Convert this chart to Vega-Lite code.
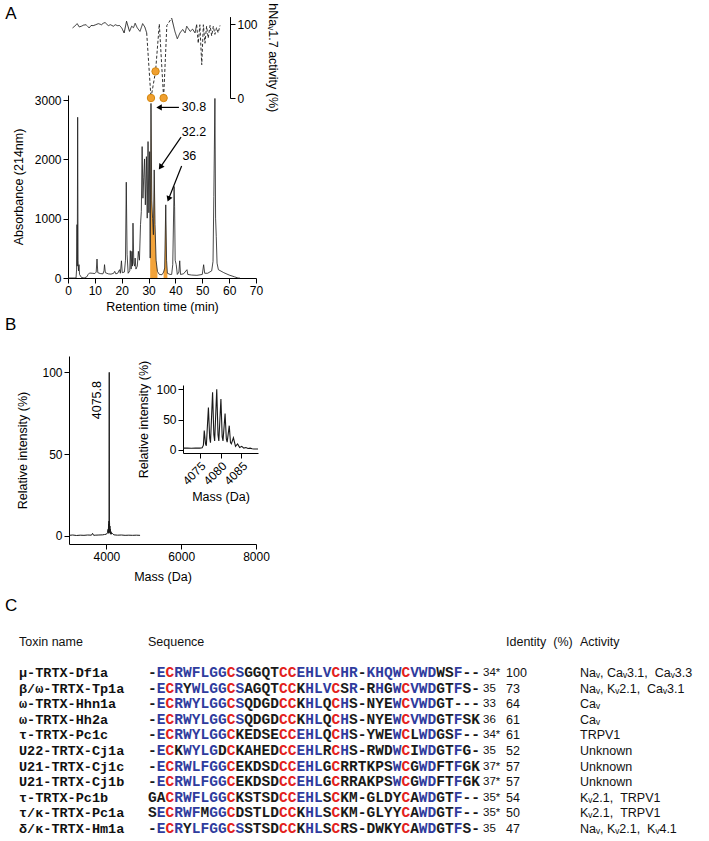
{
"$schema": "https://vega.github.io/schema/vega-lite/v6.json",
"width": 709, "height": 841, "autosize": "none", "padding": 0, "background": "white",
"config": {"view": {"stroke": null},
 "axis": {"domainColor": "#000", "tickColor": "#000", "labelColor": "#000", "titleColor": "#000", "labelFont": "Liberation Sans", "titleFont": "Liberation Sans", "labelFontSize": 12, "titleFontSize": 12.5, "titleFontWeight": "normal", "tickSize": 5, "grid": false, "labelFlush": false, "labelOverlap": false, "labelPadding": 2, "domainWidth": 1, "tickWidth": 1, "format": "d"}},
"datasets": {
 "chrom": [{"t":0,"a":0},{"t":3.0,"a":0},{"t":3.2,"a":150},{"t":3.35,"a":900},{"t":3.45,"a":200},{"t":3.6,"a":2710},{"t":3.75,"a":300},{"t":3.9,"a":120},{"t":4.1,"a":225},{"t":4.3,"a":60},{"t":5,"a":10},{"t":6,"a":0},{"t":7,"a":20},{"t":7.5,"a":60},{"t":8,"a":84},{"t":9,"a":80},{"t":10,"a":75},{"t":10.5,"a":100},{"t":10.8,"a":320},{"t":11.1,"a":90},{"t":12,"a":75},{"t":13,"a":70},{"t":13.4,"a":120},{"t":13.6,"a":225},{"t":13.9,"a":90},{"t":15,"a":70},{"t":16,"a":65},{"t":17,"a":80},{"t":17.4,"a":112},{"t":17.8,"a":70},{"t":18.5,"a":80},{"t":19.2,"a":140},{"t":19.5,"a":80},{"t":19.9,"a":290},{"t":20.2,"a":90},{"t":21,"a":100},{"t":21.4,"a":300},{"t":21.7,"a":1615},{"t":22.0,"a":400},{"t":22.4,"a":80},{"t":23,"a":120},{"t":23.2,"a":460},{"t":23.5,"a":150},{"t":23.8,"a":450},{"t":24.0,"a":200},{"t":24.2,"a":925},{"t":24.5,"a":250},{"t":24.8,"a":200},{"t":25.0,"a":336},{"t":25.3,"a":150},{"t":25.8,"a":200},{"t":26.2,"a":450},{"t":26.6,"a":300},{"t":27.0,"a":900},{"t":27.3,"a":1120},{"t":27.6,"a":2215},{"t":27.9,"a":1345},{"t":28.2,"a":1700},{"t":28.5,"a":2007},{"t":28.8,"a":1233},{"t":29.2,"a":2046},{"t":29.5,"a":1009},{"t":29.8,"a":2300},{"t":30.1,"a":1100},{"t":30.4,"a":2130},{"t":30.6,"a":336,"f":"F1"},{"t":30.9,"a":2943,"f":"F1"},{"t":31.2,"a":1300,"f":"F1"},{"t":31.5,"a":1000,"f":"F1"},{"t":31.8,"a":729,"f":"F1"},{"t":32.1,"a":1822,"f":"F1"},{"t":32.4,"a":900,"f":"F1"},{"t":32.8,"a":300,"f":"F1"},{"t":33.3,"a":112,"f":"F1"},{"t":34,"a":60},{"t":35,"a":55},{"t":35.6,"a":100,"f":"F2"},{"t":36.0,"a":168,"f":"F2"},{"t":36.4,"a":1233,"f":"F2"},{"t":36.7,"a":300,"f":"F2"},{"t":37.0,"a":80,"f":"F2"},{"t":38,"a":60},{"t":38.6,"a":60},{"t":39.0,"a":224},{"t":39.5,"a":1542},{"t":39.7,"a":1200},{"t":39.9,"a":300},{"t":40.3,"a":224},{"t":40.7,"a":60},{"t":41.3,"a":100},{"t":41.6,"a":290},{"t":41.9,"a":60},{"t":43,"a":70},{"t":44.3,"a":140},{"t":44.6,"a":60},{"t":46,"a":50},{"t":48,"a":45},{"t":50,"a":60},{"t":50.5,"a":224},{"t":50.9,"a":80},{"t":52,"a":80},{"t":53.5,"a":120},{"t":54.0,"a":280},{"t":54.3,"a":1374},{"t":54.7,"a":3027},{"t":54.95,"a":1009},{"t":55.2,"a":700},{"t":55.5,"a":250},{"t":56,"a":140},{"t":58,"a":90},{"t":60,"a":50},{"t":62,"a":20},{"t":63.3,"a":0},{"t":64,"a":0}],
 "arrows": [{"id":"30.8","t":41.3,"a":2876,"t2":33.9,"a2":2876},{"id":"32.2","t":42.1,"a":2376,"t2":34.4,"a2":1869},{"id":"36","t":42.3,"a":1887,"t2":37.45,"a2":1331}],
 "heads": [{"id":"30.8","t":33.9,"a":2876},{"id":"32.2","t":34.4,"a":1869},{"id":"36","t":37.45,"a":1331}],
 "albl": [{"lab":"30.8","t":42.4,"a":2876},{"lab":"32.2","t":42.4,"a":2465},{"lab":"36","t":42.6,"a":2056}],
 "alab": [{"t":-23.4,"a":4364,"lab":"A"}],
 "act": [{"t":1.7,"v":94.7,"seg":"s1"},{"t":2.5,"v":97,"seg":"s1"},{"t":3.4,"v":100.5,"seg":"s1"},{"t":4.2,"v":96,"seg":"s1"},{"t":5.0,"v":97,"seg":"s1"},{"t":5.8,"v":98.5,"seg":"s1"},{"t":6.7,"v":99,"seg":"s1"},{"t":7.9,"v":94.7,"seg":"s1"},{"t":8.6,"v":98,"seg":"s1"},{"t":9.4,"v":97.8,"seg":"s1"},{"t":10.3,"v":99,"seg":"s1"},{"t":11.3,"v":100.5,"seg":"s1"},{"t":12.5,"v":99,"seg":"s1"},{"t":13.1,"v":101,"seg":"s1"},{"t":13.8,"v":102,"seg":"s1"},{"t":15,"v":97.8,"seg":"s1"},{"t":15.8,"v":99,"seg":"s1"},{"t":16.9,"v":97,"seg":"s1"},{"t":17.6,"v":99,"seg":"s1"},{"t":18.4,"v":97.8,"seg":"s1"},{"t":19.2,"v":98,"seg":"s1"},{"t":20,"v":94.7,"seg":"s1"},{"t":20.9,"v":87.9,"seg":"s1"},{"t":21.8,"v":103.7,"seg":"s1"},{"t":22.9,"v":90,"seg":"s1"},{"t":23.7,"v":97,"seg":"s1"},{"t":24.4,"v":95,"seg":"s1"},{"t":25,"v":101,"seg":"s1"},{"t":25.8,"v":94.7,"seg":"s1"},{"t":26.8,"v":90,"seg":"s1"},{"t":27.8,"v":100.5,"seg":"s1"},{"t":28.6,"v":96,"seg":"s1"},{"t":29.3,"v":88,"seg":"s1"},
  {"t":29.3,"v":88,"seg":"d1"},{"t":30.9,"v":0,"seg":"d1"},{"t":32.6,"v":36,"seg":"d1"},{"t":34.0,"v":100,"seg":"d1"},{"t":35.6,"v":0,"seg":"d1"},{"t":36.8,"v":98,"seg":"d1"},{"t":38.6,"v":108,"seg":"d1"},
  {"t":38.6,"v":108,"seg":"s2"},{"t":39.8,"v":90,"seg":"s2"},{"t":40.7,"v":80,"seg":"s2"},{"t":41.7,"v":88,"seg":"s2"},{"t":42.7,"v":92.6,"seg":"s2"},{"t":43.6,"v":88,"seg":"s2"},{"t":44.2,"v":97,"seg":"s2"},{"t":45.5,"v":90,"seg":"s2"},{"t":46.4,"v":93,"seg":"s2"},{"t":47.3,"v":88,"seg":"s2"},{"t":47.9,"v":99,"seg":"s2"},
  {"t":47.9,"v":99,"seg":"d2"},{"t":48.5,"v":74,"seg":"d2"},{"t":49.1,"v":99,"seg":"d2"},{"t":49.8,"v":45,"seg":"d2"},{"t":50.4,"v":99,"seg":"d2"},{"t":51.0,"v":74,"seg":"d2"},{"t":51.6,"v":97,"seg":"d2"},{"t":52.2,"v":81,"seg":"d2"},{"t":52.9,"v":98,"seg":"d2"},{"t":53.5,"v":84,"seg":"d2"},{"t":54.1,"v":97,"seg":"d2"},{"t":54.7,"v":86,"seg":"d2"},{"t":55.3,"v":95,"seg":"d2"},{"t":55.9,"v":88,"seg":"d2"},{"t":56.6,"v":98,"seg":"d2"}],
 "dots": [{"t":30.9,"v":0},{"t":32.6,"v":36},{"t":35.6,"v":0}],
 "ms": [{"m":3000,"v":0.3},{"m":3100,"v":0.5},{"m":3200,"v":0.2},{"m":3300,"v":0.4},{"m":3400,"v":0.3},{"m":3500,"v":0.5},{"m":3600,"v":0.4},{"m":3630,"v":1.5},{"m":3660,"v":0.3},{"m":3700,"v":0.4},{"m":3800,"v":0.5},{"m":3900,"v":0.6},{"m":3950,"v":0.8},{"m":4000,"v":1},{"m":4030,"v":2},{"m":4045,"v":4},{"m":4050,"v":1.5},{"m":4058,"v":7},{"m":4062,"v":2},{"m":4068,"v":9},{"m":4072,"v":3},{"m":4075.8,"v":100},{"m":4079,"v":3},{"m":4084,"v":8},{"m":4088,"v":2},{"m":4094,"v":6},{"m":4100,"v":1.5},{"m":4108,"v":4},{"m":4115,"v":1},{"m":4125,"v":2.5},{"m":4140,"v":1},{"m":4160,"v":1.5},{"m":4200,"v":0.6},{"m":4300,"v":0.4},{"m":4400,"v":0.5},{"m":4500,"v":0.3},{"m":4600,"v":0.4},{"m":4700,"v":0.3},{"m":4800,"v":0.4},{"m":4900,"v":0.3}],
 "mslbl": [{"m":4075.8,"v":83,"lab":"4075.8"}],
 "blab": [{"m":1289,"v":126,"lab":"B"}],
 "inset": [{"m":4071,"v":3},{"m":4072,"v":3},{"m":4073,"v":2.8},{"m":4074,"v":3},{"m":4075,"v":3},{"m":4075.6,"v":3.5},{"m":4075.9,"v":8},{"m":4076.1,"v":32},{"m":4076.4,"v":10},{"m":4076.6,"v":7},{"m":4077.1,"v":70},{"m":4077.4,"v":20},{"m":4077.6,"v":12},{"m":4078.1,"v":95},{"m":4078.4,"v":25},{"m":4078.6,"v":15},{"m":4079.1,"v":100},{"m":4079.4,"v":25},{"m":4079.6,"v":15},{"m":4080.1,"v":84},{"m":4080.4,"v":22},{"m":4080.6,"v":15},{"m":4081.1,"v":60},{"m":4081.4,"v":18},{"m":4081.6,"v":13},{"m":4082.1,"v":40},{"m":4082.4,"v":12},{"m":4082.6,"v":10},{"m":4083.1,"v":20},{"m":4083.6,"v":6},{"m":4084.1,"v":10},{"m":4084.6,"v":4},{"m":4085.1,"v":6},{"m":4085.6,"v":3},{"m":4086.1,"v":4},{"m":4086.6,"v":2.5},{"m":4087.1,"v":3},{"m":4087.6,"v":2},{"m":4088,"v":1.5},{"m":4089,"v":1.5}],
 "hdr": [{"c":0,"r":-1,"h":"Toxin name"},{"c":1,"r":-1,"h":"Sequence"},{"c":3,"r":-1,"h":"Identity\u00a0\u00a0(%)"},{"c":4,"r":-1,"h":"Activity"}],
 "clab": [{"c":0,"r":-3,"lab":"C"}],
 "tox": [{"r":1,"name":"μ-TRTX-Df1a","len":"34*","ident":100,"act":"Naᵥ, Caᵥ3.1,\u00a0\u00a0Caᵥ3.3"},{"r":2,"name":"β/ω-TRTX-Tp1a","len":"35","ident":73,"act":"Naᵥ, Kᵥ2.1,\u00a0\u00a0Caᵥ3.1"},{"r":3,"name":"ω-TRTX-Hhn1a","len":"33","ident":64,"act":"Caᵥ"},{"r":4,"name":"ω-TRTX-Hh2a","len":"36","ident":61,"act":"Caᵥ"},{"r":5,"name":"τ-TRTX-Pc1c","len":"34*","ident":61,"act":"TRPV1"},{"r":6,"name":"U22-TRTX-Cj1a","len":"35","ident":52,"act":"Unknown"},{"r":7,"name":"U21-TRTX-Cj1c","len":"37*","ident":57,"act":"Unknown"},{"r":8,"name":"U21-TRTX-Cj1b","len":"37*","ident":57,"act":"Unknown"},{"r":9,"name":"τ-TRTX-Pc1b","len":"35*","ident":54,"act":"Kᵥ2.1,\u00a0\u00a0TRPV1"},{"r":10,"name":"τ/κ-TRTX-Pc1a","len":"35*","ident":50,"act":"Kᵥ2.1,\u00a0\u00a0TRPV1"},{"r":11,"name":"δ/κ-TRTX-Hm1a","len":"35","ident":47,"act":"Naᵥ, Kᵥ2.1,\u00a0\u00a0Kᵥ4.1"}],
 "seq": [
{"r":1,"i":0,"a":"-","k":"v"},{"r":1,"i":1,"a":"E","k":"i"},{"r":1,"i":2,"a":"C","k":"c"},{"r":1,"i":3,"a":"R","k":"i"},{"r":1,"i":4,"a":"W","k":"i"},{"r":1,"i":5,"a":"F","k":"i"},{"r":1,"i":6,"a":"L","k":"i"},{"r":1,"i":7,"a":"G","k":"i"},{"r":1,"i":8,"a":"G","k":"i"},{"r":1,"i":9,"a":"C","k":"c"},{"r":1,"i":10,"a":"S","k":"i"},{"r":1,"i":11,"a":"G","k":"v"},{"r":1,"i":12,"a":"G","k":"v"},{"r":1,"i":13,"a":"Q","k":"v"},{"r":1,"i":14,"a":"T","k":"v"},{"r":1,"i":15,"a":"C","k":"c"},{"r":1,"i":16,"a":"C","k":"c"},{"r":1,"i":17,"a":"E","k":"i"},{"r":1,"i":18,"a":"H","k":"i"},{"r":1,"i":19,"a":"L","k":"i"},{"r":1,"i":20,"a":"V","k":"i"},{"r":1,"i":21,"a":"C","k":"c"},{"r":1,"i":22,"a":"H","k":"i"},{"r":1,"i":23,"a":"R","k":"i"},{"r":1,"i":24,"a":"-","k":"v"},{"r":1,"i":25,"a":"K","k":"i"},{"r":1,"i":26,"a":"H","k":"i"},{"r":1,"i":27,"a":"Q","k":"i"},{"r":1,"i":28,"a":"W","k":"i"},{"r":1,"i":29,"a":"C","k":"c"},{"r":1,"i":30,"a":"V","k":"i"},{"r":1,"i":31,"a":"W","k":"i"},{"r":1,"i":32,"a":"D","k":"i"},{"r":1,"i":33,"a":"W","k":"v"},{"r":1,"i":34,"a":"S","k":"v"},{"r":1,"i":35,"a":"F","k":"i"},{"r":1,"i":36,"a":"-","k":"v"},{"r":1,"i":37,"a":"-","k":"v"},
{"r":2,"i":0,"a":"-","k":"v"},{"r":2,"i":1,"a":"E","k":"i"},{"r":2,"i":2,"a":"C","k":"c"},{"r":2,"i":3,"a":"R","k":"i"},{"r":2,"i":4,"a":"Y","k":"v"},{"r":2,"i":5,"a":"W","k":"i"},{"r":2,"i":6,"a":"L","k":"i"},{"r":2,"i":7,"a":"G","k":"i"},{"r":2,"i":8,"a":"G","k":"i"},{"r":2,"i":9,"a":"C","k":"c"},{"r":2,"i":10,"a":"S","k":"i"},{"r":2,"i":11,"a":"A","k":"v"},{"r":2,"i":12,"a":"G","k":"v"},{"r":2,"i":13,"a":"Q","k":"v"},{"r":2,"i":14,"a":"T","k":"v"},{"r":2,"i":15,"a":"C","k":"c"},{"r":2,"i":16,"a":"C","k":"c"},{"r":2,"i":17,"a":"K","k":"v"},{"r":2,"i":18,"a":"H","k":"i"},{"r":2,"i":19,"a":"L","k":"i"},{"r":2,"i":20,"a":"V","k":"i"},{"r":2,"i":21,"a":"C","k":"c"},{"r":2,"i":22,"a":"S","k":"v"},{"r":2,"i":23,"a":"R","k":"i"},{"r":2,"i":24,"a":"-","k":"v"},{"r":2,"i":25,"a":"R","k":"v"},{"r":2,"i":26,"a":"H","k":"i"},{"r":2,"i":27,"a":"G","k":"v"},{"r":2,"i":28,"a":"W","k":"i"},{"r":2,"i":29,"a":"C","k":"c"},{"r":2,"i":30,"a":"V","k":"i"},{"r":2,"i":31,"a":"W","k":"i"},{"r":2,"i":32,"a":"D","k":"i"},{"r":2,"i":33,"a":"G","k":"v"},{"r":2,"i":34,"a":"T","k":"v"},{"r":2,"i":35,"a":"F","k":"i"},{"r":2,"i":36,"a":"S","k":"v"},{"r":2,"i":37,"a":"-","k":"v"},
{"r":3,"i":0,"a":"-","k":"v"},{"r":3,"i":1,"a":"E","k":"i"},{"r":3,"i":2,"a":"C","k":"c"},{"r":3,"i":3,"a":"R","k":"i"},{"r":3,"i":4,"a":"W","k":"i"},{"r":3,"i":5,"a":"Y","k":"i"},{"r":3,"i":6,"a":"L","k":"i"},{"r":3,"i":7,"a":"G","k":"i"},{"r":3,"i":8,"a":"G","k":"i"},{"r":3,"i":9,"a":"C","k":"c"},{"r":3,"i":10,"a":"S","k":"i"},{"r":3,"i":11,"a":"Q","k":"v"},{"r":3,"i":12,"a":"D","k":"v"},{"r":3,"i":13,"a":"G","k":"v"},{"r":3,"i":14,"a":"D","k":"v"},{"r":3,"i":15,"a":"C","k":"c"},{"r":3,"i":16,"a":"C","k":"c"},{"r":3,"i":17,"a":"K","k":"v"},{"r":3,"i":18,"a":"H","k":"i"},{"r":3,"i":19,"a":"L","k":"i"},{"r":3,"i":20,"a":"Q","k":"v"},{"r":3,"i":21,"a":"C","k":"c"},{"r":3,"i":22,"a":"H","k":"i"},{"r":3,"i":23,"a":"S","k":"v"},{"r":3,"i":24,"a":"-","k":"v"},{"r":3,"i":25,"a":"N","k":"v"},{"r":3,"i":26,"a":"Y","k":"v"},{"r":3,"i":27,"a":"E","k":"v"},{"r":3,"i":28,"a":"W","k":"i"},{"r":3,"i":29,"a":"C","k":"c"},{"r":3,"i":30,"a":"V","k":"i"},{"r":3,"i":31,"a":"W","k":"i"},{"r":3,"i":32,"a":"D","k":"i"},{"r":3,"i":33,"a":"G","k":"v"},{"r":3,"i":34,"a":"T","k":"v"},{"r":3,"i":35,"a":"-","k":"v"},{"r":3,"i":36,"a":"-","k":"v"},{"r":3,"i":37,"a":"-","k":"v"},
{"r":4,"i":0,"a":"-","k":"v"},{"r":4,"i":1,"a":"E","k":"i"},{"r":4,"i":2,"a":"C","k":"c"},{"r":4,"i":3,"a":"R","k":"i"},{"r":4,"i":4,"a":"W","k":"i"},{"r":4,"i":5,"a":"Y","k":"i"},{"r":4,"i":6,"a":"L","k":"i"},{"r":4,"i":7,"a":"G","k":"i"},{"r":4,"i":8,"a":"G","k":"i"},{"r":4,"i":9,"a":"C","k":"c"},{"r":4,"i":10,"a":"S","k":"i"},{"r":4,"i":11,"a":"Q","k":"v"},{"r":4,"i":12,"a":"D","k":"v"},{"r":4,"i":13,"a":"G","k":"v"},{"r":4,"i":14,"a":"D","k":"v"},{"r":4,"i":15,"a":"C","k":"c"},{"r":4,"i":16,"a":"C","k":"c"},{"r":4,"i":17,"a":"K","k":"v"},{"r":4,"i":18,"a":"H","k":"i"},{"r":4,"i":19,"a":"L","k":"i"},{"r":4,"i":20,"a":"Q","k":"v"},{"r":4,"i":21,"a":"C","k":"c"},{"r":4,"i":22,"a":"H","k":"i"},{"r":4,"i":23,"a":"S","k":"v"},{"r":4,"i":24,"a":"-","k":"v"},{"r":4,"i":25,"a":"N","k":"v"},{"r":4,"i":26,"a":"Y","k":"v"},{"r":4,"i":27,"a":"E","k":"v"},{"r":4,"i":28,"a":"W","k":"i"},{"r":4,"i":29,"a":"C","k":"c"},{"r":4,"i":30,"a":"V","k":"i"},{"r":4,"i":31,"a":"W","k":"i"},{"r":4,"i":32,"a":"D","k":"i"},{"r":4,"i":33,"a":"G","k":"v"},{"r":4,"i":34,"a":"T","k":"v"},{"r":4,"i":35,"a":"F","k":"i"},{"r":4,"i":36,"a":"S","k":"v"},{"r":4,"i":37,"a":"K","k":"v"},
{"r":5,"i":0,"a":"-","k":"v"},{"r":5,"i":1,"a":"E","k":"i"},{"r":5,"i":2,"a":"C","k":"c"},{"r":5,"i":3,"a":"R","k":"i"},{"r":5,"i":4,"a":"W","k":"i"},{"r":5,"i":5,"a":"Y","k":"i"},{"r":5,"i":6,"a":"L","k":"i"},{"r":5,"i":7,"a":"G","k":"i"},{"r":5,"i":8,"a":"G","k":"i"},{"r":5,"i":9,"a":"C","k":"c"},{"r":5,"i":10,"a":"K","k":"v"},{"r":5,"i":11,"a":"E","k":"v"},{"r":5,"i":12,"a":"D","k":"v"},{"r":5,"i":13,"a":"S","k":"v"},{"r":5,"i":14,"a":"E","k":"v"},{"r":5,"i":15,"a":"C","k":"c"},{"r":5,"i":16,"a":"C","k":"c"},{"r":5,"i":17,"a":"E","k":"i"},{"r":5,"i":18,"a":"H","k":"i"},{"r":5,"i":19,"a":"L","k":"i"},{"r":5,"i":20,"a":"Q","k":"v"},{"r":5,"i":21,"a":"C","k":"c"},{"r":5,"i":22,"a":"H","k":"i"},{"r":5,"i":23,"a":"S","k":"v"},{"r":5,"i":24,"a":"-","k":"v"},{"r":5,"i":25,"a":"Y","k":"v"},{"r":5,"i":26,"a":"W","k":"v"},{"r":5,"i":27,"a":"E","k":"v"},{"r":5,"i":28,"a":"W","k":"i"},{"r":5,"i":29,"a":"C","k":"c"},{"r":5,"i":30,"a":"L","k":"v"},{"r":5,"i":31,"a":"W","k":"i"},{"r":5,"i":32,"a":"D","k":"i"},{"r":5,"i":33,"a":"G","k":"v"},{"r":5,"i":34,"a":"S","k":"v"},{"r":5,"i":35,"a":"F","k":"i"},{"r":5,"i":36,"a":"-","k":"v"},{"r":5,"i":37,"a":"-","k":"v"},
{"r":6,"i":0,"a":"-","k":"v"},{"r":6,"i":1,"a":"E","k":"i"},{"r":6,"i":2,"a":"C","k":"c"},{"r":6,"i":3,"a":"K","k":"v"},{"r":6,"i":4,"a":"W","k":"i"},{"r":6,"i":5,"a":"Y","k":"i"},{"r":6,"i":6,"a":"L","k":"i"},{"r":6,"i":7,"a":"G","k":"i"},{"r":6,"i":8,"a":"D","k":"v"},{"r":6,"i":9,"a":"C","k":"c"},{"r":6,"i":10,"a":"K","k":"v"},{"r":6,"i":11,"a":"A","k":"v"},{"r":6,"i":12,"a":"H","k":"v"},{"r":6,"i":13,"a":"E","k":"v"},{"r":6,"i":14,"a":"D","k":"v"},{"r":6,"i":15,"a":"C","k":"c"},{"r":6,"i":16,"a":"C","k":"c"},{"r":6,"i":17,"a":"E","k":"i"},{"r":6,"i":18,"a":"H","k":"i"},{"r":6,"i":19,"a":"L","k":"i"},{"r":6,"i":20,"a":"R","k":"v"},{"r":6,"i":21,"a":"C","k":"c"},{"r":6,"i":22,"a":"H","k":"i"},{"r":6,"i":23,"a":"S","k":"v"},{"r":6,"i":24,"a":"-","k":"v"},{"r":6,"i":25,"a":"R","k":"v"},{"r":6,"i":26,"a":"W","k":"v"},{"r":6,"i":27,"a":"D","k":"v"},{"r":6,"i":28,"a":"W","k":"i"},{"r":6,"i":29,"a":"C","k":"c"},{"r":6,"i":30,"a":"I","k":"v"},{"r":6,"i":31,"a":"W","k":"i"},{"r":6,"i":32,"a":"D","k":"i"},{"r":6,"i":33,"a":"G","k":"v"},{"r":6,"i":34,"a":"T","k":"v"},{"r":6,"i":35,"a":"F","k":"i"},{"r":6,"i":36,"a":"G","k":"v"},{"r":6,"i":37,"a":"-","k":"v"},
{"r":7,"i":0,"a":"-","k":"v"},{"r":7,"i":1,"a":"E","k":"i"},{"r":7,"i":2,"a":"C","k":"c"},{"r":7,"i":3,"a":"R","k":"i"},{"r":7,"i":4,"a":"W","k":"i"},{"r":7,"i":5,"a":"L","k":"i"},{"r":7,"i":6,"a":"F","k":"i"},{"r":7,"i":7,"a":"G","k":"i"},{"r":7,"i":8,"a":"G","k":"i"},{"r":7,"i":9,"a":"C","k":"c"},{"r":7,"i":10,"a":"E","k":"v"},{"r":7,"i":11,"a":"K","k":"v"},{"r":7,"i":12,"a":"D","k":"v"},{"r":7,"i":13,"a":"S","k":"v"},{"r":7,"i":14,"a":"D","k":"v"},{"r":7,"i":15,"a":"C","k":"c"},{"r":7,"i":16,"a":"C","k":"c"},{"r":7,"i":17,"a":"E","k":"i"},{"r":7,"i":18,"a":"H","k":"i"},{"r":7,"i":19,"a":"L","k":"i"},{"r":7,"i":20,"a":"G","k":"v"},{"r":7,"i":21,"a":"C","k":"c"},{"r":7,"i":22,"a":"R","k":"v"},{"r":7,"i":23,"a":"R","k":"v"},{"r":7,"i":24,"a":"T","k":"v"},{"r":7,"i":25,"a":"K","k":"v"},{"r":7,"i":26,"a":"P","k":"v"},{"r":7,"i":27,"a":"S","k":"v"},{"r":7,"i":28,"a":"W","k":"i"},{"r":7,"i":29,"a":"C","k":"c"},{"r":7,"i":30,"a":"G","k":"v"},{"r":7,"i":31,"a":"W","k":"i"},{"r":7,"i":32,"a":"D","k":"i"},{"r":7,"i":33,"a":"F","k":"v"},{"r":7,"i":34,"a":"T","k":"v"},{"r":7,"i":35,"a":"F","k":"i"},{"r":7,"i":36,"a":"G","k":"v"},{"r":7,"i":37,"a":"K","k":"v"},
{"r":8,"i":0,"a":"-","k":"v"},{"r":8,"i":1,"a":"E","k":"i"},{"r":8,"i":2,"a":"C","k":"c"},{"r":8,"i":3,"a":"R","k":"i"},{"r":8,"i":4,"a":"W","k":"i"},{"r":8,"i":5,"a":"L","k":"i"},{"r":8,"i":6,"a":"F","k":"i"},{"r":8,"i":7,"a":"G","k":"i"},{"r":8,"i":8,"a":"G","k":"i"},{"r":8,"i":9,"a":"C","k":"c"},{"r":8,"i":10,"a":"E","k":"v"},{"r":8,"i":11,"a":"K","k":"v"},{"r":8,"i":12,"a":"D","k":"v"},{"r":8,"i":13,"a":"S","k":"v"},{"r":8,"i":14,"a":"D","k":"v"},{"r":8,"i":15,"a":"C","k":"c"},{"r":8,"i":16,"a":"C","k":"c"},{"r":8,"i":17,"a":"E","k":"i"},{"r":8,"i":18,"a":"H","k":"i"},{"r":8,"i":19,"a":"L","k":"i"},{"r":8,"i":20,"a":"G","k":"v"},{"r":8,"i":21,"a":"C","k":"c"},{"r":8,"i":22,"a":"R","k":"v"},{"r":8,"i":23,"a":"R","k":"v"},{"r":8,"i":24,"a":"A","k":"v"},{"r":8,"i":25,"a":"K","k":"v"},{"r":8,"i":26,"a":"P","k":"v"},{"r":8,"i":27,"a":"S","k":"v"},{"r":8,"i":28,"a":"W","k":"i"},{"r":8,"i":29,"a":"C","k":"c"},{"r":8,"i":30,"a":"G","k":"v"},{"r":8,"i":31,"a":"W","k":"i"},{"r":8,"i":32,"a":"D","k":"i"},{"r":8,"i":33,"a":"F","k":"v"},{"r":8,"i":34,"a":"T","k":"v"},{"r":8,"i":35,"a":"F","k":"i"},{"r":8,"i":36,"a":"G","k":"v"},{"r":8,"i":37,"a":"K","k":"v"},
{"r":9,"i":0,"a":"G","k":"v"},{"r":9,"i":1,"a":"A","k":"v"},{"r":9,"i":2,"a":"C","k":"c"},{"r":9,"i":3,"a":"R","k":"i"},{"r":9,"i":4,"a":"W","k":"i"},{"r":9,"i":5,"a":"F","k":"i"},{"r":9,"i":6,"a":"L","k":"i"},{"r":9,"i":7,"a":"G","k":"i"},{"r":9,"i":8,"a":"G","k":"i"},{"r":9,"i":9,"a":"C","k":"c"},{"r":9,"i":10,"a":"K","k":"v"},{"r":9,"i":11,"a":"S","k":"v"},{"r":9,"i":12,"a":"T","k":"v"},{"r":9,"i":13,"a":"S","k":"v"},{"r":9,"i":14,"a":"D","k":"v"},{"r":9,"i":15,"a":"C","k":"c"},{"r":9,"i":16,"a":"C","k":"c"},{"r":9,"i":17,"a":"E","k":"i"},{"r":9,"i":18,"a":"H","k":"i"},{"r":9,"i":19,"a":"L","k":"i"},{"r":9,"i":20,"a":"S","k":"v"},{"r":9,"i":21,"a":"C","k":"c"},{"r":9,"i":22,"a":"K","k":"v"},{"r":9,"i":23,"a":"M","k":"v"},{"r":9,"i":24,"a":"-","k":"v"},{"r":9,"i":25,"a":"G","k":"v"},{"r":9,"i":26,"a":"L","k":"v"},{"r":9,"i":27,"a":"D","k":"v"},{"r":9,"i":28,"a":"Y","k":"v"},{"r":9,"i":29,"a":"C","k":"c"},{"r":9,"i":30,"a":"A","k":"v"},{"r":9,"i":31,"a":"W","k":"i"},{"r":9,"i":32,"a":"D","k":"i"},{"r":9,"i":33,"a":"G","k":"v"},{"r":9,"i":34,"a":"T","k":"v"},{"r":9,"i":35,"a":"F","k":"i"},{"r":9,"i":36,"a":"-","k":"v"},{"r":9,"i":37,"a":"-","k":"v"},
{"r":10,"i":0,"a":"S","k":"v"},{"r":10,"i":1,"a":"E","k":"i"},{"r":10,"i":2,"a":"C","k":"c"},{"r":10,"i":3,"a":"R","k":"i"},{"r":10,"i":4,"a":"W","k":"i"},{"r":10,"i":5,"a":"F","k":"i"},{"r":10,"i":6,"a":"M","k":"v"},{"r":10,"i":7,"a":"G","k":"i"},{"r":10,"i":8,"a":"G","k":"i"},{"r":10,"i":9,"a":"C","k":"c"},{"r":10,"i":10,"a":"D","k":"v"},{"r":10,"i":11,"a":"S","k":"v"},{"r":10,"i":12,"a":"T","k":"v"},{"r":10,"i":13,"a":"L","k":"v"},{"r":10,"i":14,"a":"D","k":"v"},{"r":10,"i":15,"a":"C","k":"c"},{"r":10,"i":16,"a":"C","k":"c"},{"r":10,"i":17,"a":"K","k":"v"},{"r":10,"i":18,"a":"H","k":"i"},{"r":10,"i":19,"a":"L","k":"i"},{"r":10,"i":20,"a":"S","k":"v"},{"r":10,"i":21,"a":"C","k":"c"},{"r":10,"i":22,"a":"K","k":"v"},{"r":10,"i":23,"a":"M","k":"v"},{"r":10,"i":24,"a":"-","k":"v"},{"r":10,"i":25,"a":"G","k":"v"},{"r":10,"i":26,"a":"L","k":"v"},{"r":10,"i":27,"a":"Y","k":"v"},{"r":10,"i":28,"a":"Y","k":"v"},{"r":10,"i":29,"a":"C","k":"c"},{"r":10,"i":30,"a":"A","k":"v"},{"r":10,"i":31,"a":"W","k":"i"},{"r":10,"i":32,"a":"D","k":"i"},{"r":10,"i":33,"a":"G","k":"v"},{"r":10,"i":34,"a":"T","k":"v"},{"r":10,"i":35,"a":"F","k":"i"},{"r":10,"i":36,"a":"-","k":"v"},{"r":10,"i":37,"a":"-","k":"v"},
{"r":11,"i":0,"a":"-","k":"v"},{"r":11,"i":1,"a":"E","k":"i"},{"r":11,"i":2,"a":"C","k":"c"},{"r":11,"i":3,"a":"R","k":"i"},{"r":11,"i":4,"a":"Y","k":"v"},{"r":11,"i":5,"a":"L","k":"i"},{"r":11,"i":6,"a":"F","k":"i"},{"r":11,"i":7,"a":"G","k":"i"},{"r":11,"i":8,"a":"G","k":"i"},{"r":11,"i":9,"a":"C","k":"c"},{"r":11,"i":10,"a":"S","k":"i"},{"r":11,"i":11,"a":"S","k":"v"},{"r":11,"i":12,"a":"T","k":"v"},{"r":11,"i":13,"a":"S","k":"v"},{"r":11,"i":14,"a":"D","k":"v"},{"r":11,"i":15,"a":"C","k":"c"},{"r":11,"i":16,"a":"C","k":"c"},{"r":11,"i":17,"a":"K","k":"v"},{"r":11,"i":18,"a":"H","k":"i"},{"r":11,"i":19,"a":"L","k":"i"},{"r":11,"i":20,"a":"S","k":"v"},{"r":11,"i":21,"a":"C","k":"c"},{"r":11,"i":22,"a":"R","k":"v"},{"r":11,"i":23,"a":"S","k":"v"},{"r":11,"i":24,"a":"-","k":"v"},{"r":11,"i":25,"a":"D","k":"v"},{"r":11,"i":26,"a":"W","k":"v"},{"r":11,"i":27,"a":"K","k":"v"},{"r":11,"i":28,"a":"Y","k":"v"},{"r":11,"i":29,"a":"C","k":"c"},{"r":11,"i":30,"a":"A","k":"v"},{"r":11,"i":31,"a":"W","k":"i"},{"r":11,"i":32,"a":"D","k":"i"},{"r":11,"i":33,"a":"G","k":"v"},{"r":11,"i":34,"a":"T","k":"v"},{"r":11,"i":35,"a":"F","k":"i"},{"r":11,"i":36,"a":"S","k":"v"},{"r":11,"i":37,"a":"-","k":"v"}
 ]
},
"layer": [
 {
  "data": {"name": "chrom"},
  "encoding": {
   "x": {"field": "t", "type": "quantitative", "scale": {"domain": [0, 70], "range": [68, 256], "nice": false, "zero": false}, "axis": {"orient": "bottom", "offset": -563, "values": [0,10,20,30,40,50,60,70], "title": "Retention time (min)"}},
   "y": {"field": "a", "type": "quantitative", "scale": {"domain": [0, 3085], "range": [278, 95], "nice": false, "zero": false}, "axis": {"orient": "left", "offset": -68, "values": [0,1000,2000,3000], "title": "Absorbance (214nm)", "titlePadding": 9}}
  },
  "layer": [
   {"transform": [{"filter": "isValid(datum.f)"}], "mark": {"type": "area", "color": "#F2A33A", "opacity": 1}, "encoding": {"detail": {"field": "f"}, "y2": {"datum": 0}}},
   {"mark": {"type": "line", "color": "#1a1a1a", "strokeWidth": 0.8}},
   {"data": {"name": "arrows"}, "mark": {"type": "rule", "color": "black", "strokeWidth": 1.2}, "encoding": {"x2": {"field": "t2"}, "y2": {"field": "a2"}}},
   {"data": {"name": "heads"}, "transform": [{"filter": "datum.id === '30.8'"}], "mark": {"type": "point", "shape": "triangle-left", "filled": true, "color": "black", "size": 40, "opacity": 1}},
   {"data": {"name": "heads"}, "transform": [{"filter": "datum.id === '32.2'"}], "mark": {"type": "point", "shape": "triangle-up", "angle": 214.5, "filled": true, "color": "black", "size": 40, "opacity": 1}},
   {"data": {"name": "heads"}, "transform": [{"filter": "datum.id === '36'"}], "mark": {"type": "point", "shape": "triangle-up", "angle": 201.4, "filled": true, "color": "black", "size": 40, "opacity": 1}},
   {"data": {"name": "albl"}, "mark": {"type": "text", "font": "Liberation Sans", "fontSize": 12.5, "align": "left", "baseline": "middle", "color": "black"}, "encoding": {"text": {"field": "lab"}}},
   {"data": {"name": "alab"}, "mark": {"type": "text", "font": "Liberation Sans", "fontSize": 17, "align": "left", "baseline": "alphabetic", "color": "black"}, "encoding": {"text": {"field": "lab"}}}
  ]
 },
 {
  "data": {"name": "act"},
  "encoding": {
   "x": {"field": "t", "type": "quantitative", "scale": {"domain": [0, 70], "range": [68, 256], "nice": false, "zero": false}, "axis": null},
   "y": {"field": "v", "type": "quantitative", "scale": {"domain": [0, 110], "range": [98, 16.6], "nice": false, "zero": false}, "axis": {"orient": "right", "offset": -479, "values": [0, 100], "title": "hNaᵥ1.7 activity (%)", "titlePadding": 8}}
  },
  "layer": [
   {"mark": {"type": "line", "color": "#1a1a1a", "strokeWidth": 0.9}, "encoding": {"detail": {"field": "seg"}, "strokeDash": {"field": "seg", "type": "nominal", "scale": {"domain": ["s1","d1","s2","d2"], "range": [[1,0],[3,2],[1,0],[3,2]]}, "legend": null}}},
   {"data": {"name": "dots"}, "mark": {"type": "point", "filled": true, "size": 55, "color": "#F0A030", "stroke": "#D4870F", "strokeWidth": 1, "opacity": 1}}
  ]
 },
 {
  "data": {"name": "ms"},
  "encoding": {
   "x": {"field": "m", "type": "quantitative", "scale": {"domain": [3000, 8000], "range": [69, 256], "nice": false, "zero": false}, "axis": {"orient": "bottom", "offset": -297, "values": [4000, 6000, 8000], "title": "Mass (Da)", "titlePadding": 8}},
   "y": {"field": "v", "type": "quantitative", "scale": {"domain": [-5, 110], "range": [544, 356], "nice": false, "zero": false}, "axis": {"orient": "left", "offset": -69, "values": [0, 50, 100], "title": "Relative intensity (%)", "titlePadding": 12}}
  },
  "layer": [
   {"mark": {"type": "line", "color": "#1a1a1a", "strokeWidth": 1}},
   {"data": {"name": "mslbl"}, "mark": {"type": "text", "angle": 270, "dy": -12, "font": "Liberation Sans", "fontSize": 12.5, "align": "center", "baseline": "middle", "color": "black"}, "encoding": {"text": {"field": "lab"}}},
   {"data": {"name": "blab"}, "mark": {"type": "text", "font": "Liberation Sans", "fontSize": 17, "align": "left", "baseline": "alphabetic", "color": "black"}, "encoding": {"text": {"field": "lab"}}}
  ]
 },
 {
  "data": {"name": "inset"},
  "mark": {"type": "line", "color": "#1a1a1a", "strokeWidth": 1.1},
  "encoding": {
   "x": {"field": "m", "type": "quantitative", "scale": {"domain": [4071, 4089], "range": [183, 258], "nice": false, "zero": false}, "axis": {"orient": "bottom", "offset": -388, "values": [4075, 4080, 4085], "labelAngle": -45, "title": "Mass (Da)", "titlePadding": 4}},
   "y": {"field": "v", "type": "quantitative", "scale": {"domain": [-5, 107], "range": [453, 385], "nice": false, "zero": false}, "axis": {"orient": "left", "offset": -183, "values": [0, 50, 100], "title": "Relative intensity (%)", "titlePadding": 5}}
  }
 },
 {
  "layer": [
   {"data": {"name": "hdr"}, "mark": {"type": "text", "font": "Liberation Sans", "fontSize": 12.5, "align": "left", "baseline": "middle", "color": "#111"},
    "encoding": {"x": {"field": "c", "type": "quantitative", "scale": {"domain": [0,1,2,3,4], "range": [19,148,483,506,580], "nice": false, "zero": false}, "axis": null}, "y": {"field": "r", "type": "quantitative", "scale": {"domain": [1, 11], "range": [673, 829], "nice": false, "zero": false}, "axis": null}, "text": {"field": "h"}}},
   {"data": {"name": "clab"}, "mark": {"type": "text", "font": "Liberation Sans", "fontSize": 17, "align": "left", "baseline": "alphabetic", "dx": -14, "color": "black"},
    "encoding": {"x": {"field": "c", "type": "quantitative"}, "y": {"field": "r", "type": "quantitative"}, "text": {"field": "lab"}}},
   {"data": {"name": "tox"}, "mark": {"type": "text", "font": "Liberation Mono", "fontWeight": "bold", "fontSize": 13.5, "align": "left", "baseline": "middle", "color": "#111"},
    "encoding": {"x": {"datum": 0, "type": "quantitative"}, "y": {"field": "r", "type": "quantitative"}, "text": {"field": "name"}}},
   {"data": {"name": "tox"}, "mark": {"type": "text", "font": "Liberation Sans", "fontSize": 11.5, "align": "left", "baseline": "middle", "color": "#111"},
    "encoding": {"x": {"datum": 2, "type": "quantitative"}, "y": {"field": "r", "type": "quantitative"}, "text": {"field": "len"}}},
   {"data": {"name": "tox"}, "mark": {"type": "text", "font": "Liberation Sans", "fontSize": 12.5, "align": "left", "baseline": "middle", "color": "#111"},
    "encoding": {"x": {"datum": 3, "type": "quantitative"}, "y": {"field": "r", "type": "quantitative"}, "text": {"field": "ident"}}},
   {"data": {"name": "tox"}, "mark": {"type": "text", "font": "Liberation Sans", "fontSize": 12.5, "align": "left", "baseline": "middle", "color": "#111"},
    "encoding": {"x": {"datum": 4, "type": "quantitative"}, "y": {"field": "r", "type": "quantitative"}, "text": {"field": "act"}}}
  ]
 },
 {
  "data": {"name": "seq"},
  "mark": {"type": "text", "font": "Liberation Mono", "fontWeight": "bold", "fontSize": 14.5, "align": "center", "baseline": "middle"},
  "encoding": {
   "x": {"field": "i", "type": "quantitative", "scale": {"domain": [-0.5, 37.5], "range": [148, 480], "nice": false, "zero": false}, "axis": null},
   "y": {"field": "r", "type": "quantitative", "scale": {"domain": [1, 11], "range": [673, 829], "nice": false, "zero": false}, "axis": null},
   "text": {"field": "a"},
   "color": {"field": "k", "type": "nominal", "scale": {"domain": ["v", "i", "c"], "range": ["#1a1a1a", "#2F3C9E", "#E3211C"]}, "legend": null}
  }
 }
],
"resolve": {"scale": {"x": "independent", "y": "independent"}, "axis": {"x": "independent", "y": "independent"}}
}
